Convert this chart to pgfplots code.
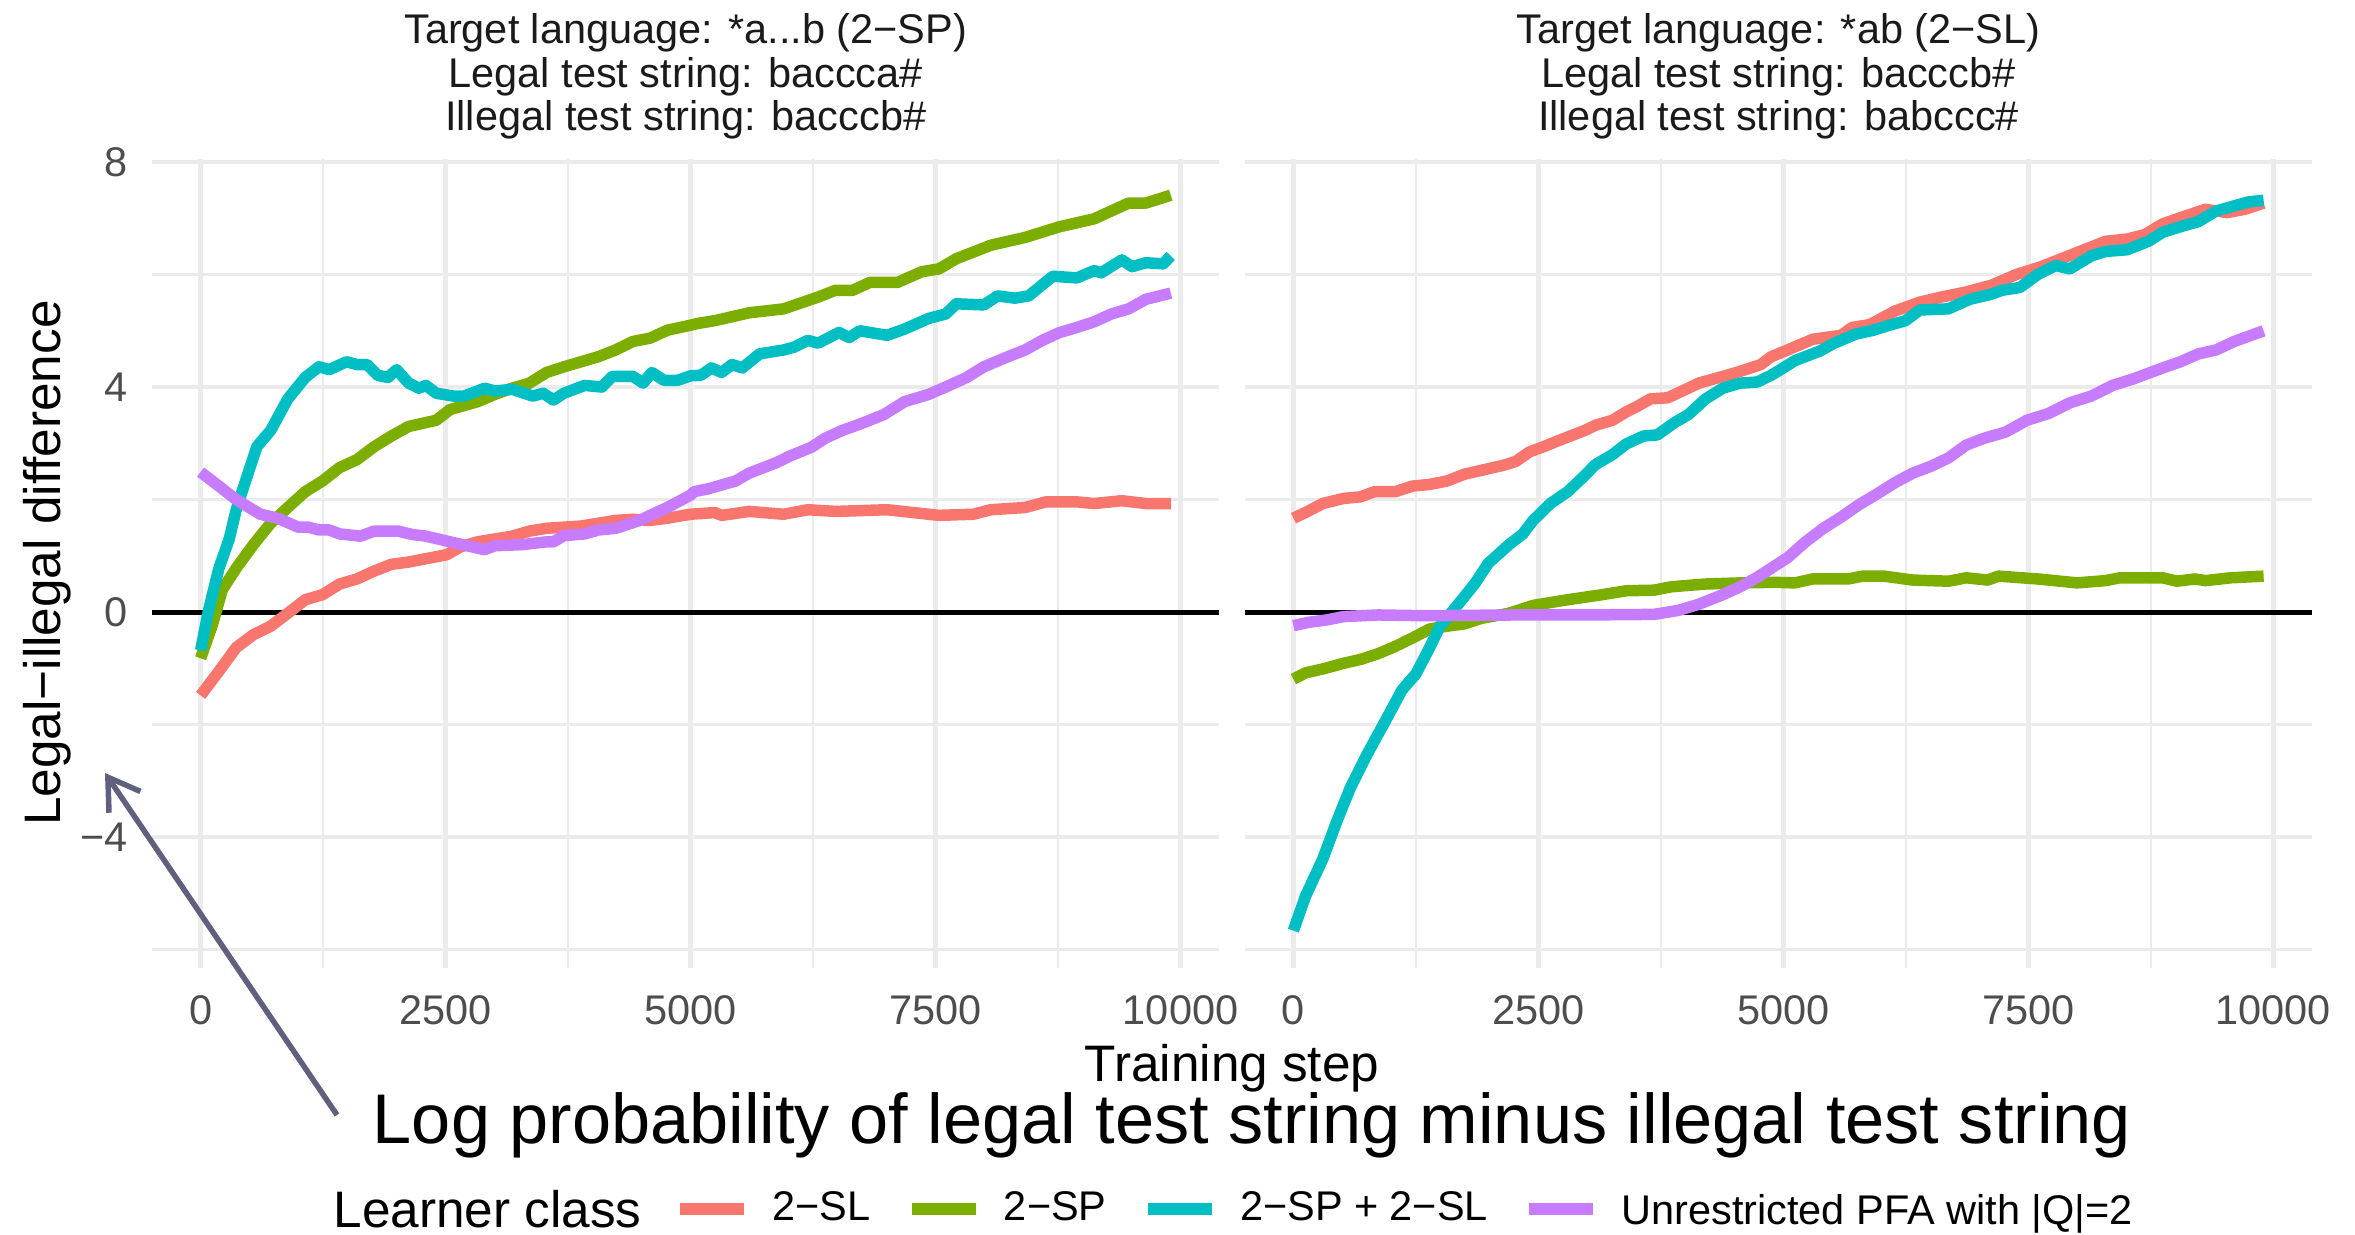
\documentclass[border=0pt]{standalone}
\usepackage{pgfplots}
\pgfplotsset{compat=1.18}
\usepackage{fontspec}
\setmainfont{Liberation Sans}
\usetikzlibrary{arrows.meta}
\definecolor{csl}{HTML}{F8766D}
\definecolor{csp}{HTML}{7CAE00}
\definecolor{cboth}{HTML}{00BFC4}
\definecolor{cpfa}{HTML}{C77CFF}
\definecolor{gridgray}{HTML}{EBEBEB}
\definecolor{tickgray}{HTML}{4D4D4D}
\definecolor{titlegray}{HTML}{1A1A1A}
\definecolor{arrowcol}{HTML}{5E607E}
\tikzset{dl/.style={line width=1.15mm, line join=round, line cap=butt}}
\pgfplotsset{
  panel/.style={
    scale only axis, width=106.72mm, height=80.97mm, anchor=south west,
    xmin=-495, xmax=10395, ymin=-6.33, ymax=8.06,
    axis line style={draw=none},
    major tick length=0pt, minor tick length=0pt,
    xtick={0,2500,5000,7500,10000}, xticklabels={0,2500,5000,7500,10000},
    minor xtick={1250,3750,6250,8750},
    ytick={-4,0,4,8}, minor ytick={-6,-2,2,6},
    grid=both,
    major grid style={draw=gridgray, line width=0.45mm},
    minor grid style={draw=gridgray, line width=0.25mm},
    scaled x ticks=false, scaled y ticks=false,
    tick label style={font=\fontsize{11.8}{14}\selectfont, text=tickgray, inner sep=0pt},
    xticklabel style={anchor=north, yshift=-2.67mm},
    yticklabel style={anchor=east, xshift=-2.41mm},
  },
  zeroline/.style={black, line width=0.5mm, forget plot},
}
\begin{document}
\begin{tikzpicture}
\path[use as bounding box] (0,0) rectangle (235.5mm,123.4mm);

% ---------- Panel 1 ----------
\begin{axis}[panel, at={(15.21mm,26.57mm)}, yticklabels={−4,0,4,8}]
\addplot[zeroline] coordinates {(-495,0) (10395,0)};
\addplot[csl, dl] coordinates {(0,-1.48) (187,-1.05) (363,-0.63) (539,-0.40) (715,-0.25) (890,-0.02) (1067,0.22) (1243,0.31) (1419,0.50) (1595,0.59) (1771,0.73) (1947,0.85) (2123,0.89) (2299,0.95) (2510,1.02) (2651,1.16) (2827,1.25) (3003,1.30) (3179,1.35) (3355,1.44) (3531,1.49) (3707,1.51) (3883,1.53) (4059,1.58) (4235,1.63) (4411,1.65) (4587,1.63) (4763,1.67) (5000,1.74) (5246,1.77) (5317,1.72) (5598,1.79) (5950,1.74) (6197,1.82) (6478,1.79) (7006,1.82) (7534,1.72) (7886,1.74) (8062,1.82) (8414,1.86) (8626,1.96) (8942,1.96) (9118,1.93) (9400,1.98) (9646,1.93) (9900,1.93)};
\addplot[csp, dl] coordinates {(0,-0.82) (116,-0.25) (222,0.40) (363,0.78) (539,1.20) (715,1.58) (890,1.86) (1067,2.14) (1243,2.33) (1419,2.57) (1595,2.71) (1771,2.94) (1947,3.13) (2123,3.30) (2404,3.41) (2545,3.60) (2827,3.74) (3003,3.87) (3179,3.98) (3355,4.07) (3531,4.26) (3707,4.36) (3883,4.45) (4059,4.54) (4235,4.66) (4411,4.81) (4587,4.87) (4763,5.01) (5000,5.10) (5070,5.13) (5246,5.18) (5422,5.25) (5598,5.32) (5950,5.39) (6302,5.60) (6478,5.72) (6654,5.72) (6830,5.86) (7112,5.86) (7358,6.05) (7534,6.10) (7710,6.28) (8062,6.52) (8414,6.66) (8766,6.85) (9118,6.99) (9470,7.27) (9646,7.27) (9900,7.41)};
\addplot[cboth, dl] coordinates {(0,-0.68) (81,0.03) (187,0.78) (292,1.30) (363,1.82) (468,2.38) (574,2.94) (715,3.23) (890,3.79) (1067,4.17) (1207,4.36) (1313,4.31) (1489,4.45) (1595,4.40) (1700,4.40) (1806,4.21) (1911,4.17) (2000,4.31) (2123,4.07) (2228,3.98) (2299,4.03) (2404,3.89) (2580,3.84) (2686,3.84) (2827,3.93) (2897,3.98) (3003,3.93) (3179,3.96) (3390,3.84) (3496,3.89) (3601,3.77) (3707,3.89) (3918,4.03) (4094,4.00) (4200,4.19) (4411,4.19) (4516,4.07) (4604,4.26) (4728,4.12) (4868,4.12) (5000,4.20) (5106,4.21) (5211,4.34) (5317,4.26) (5422,4.40) (5528,4.34) (5704,4.59) (5950,4.66) (6056,4.71) (6197,4.83) (6302,4.78) (6513,4.97) (6619,4.88) (6725,5.00) (7006,4.92) (7182,5.03) (7429,5.22) (7605,5.30) (7710,5.48) (7992,5.46) (8133,5.62) (8309,5.58) (8450,5.62) (8696,5.97) (8942,5.94) (9118,6.07) (9188,6.03) (9400,6.26) (9505,6.14) (9646,6.21) (9822,6.19) (9900,6.33)};
\addplot[cpfa, dl] coordinates {(0,2.49) (187,2.24) (363,2.00) (468,1.89) (609,1.74) (785,1.67) (996,1.51) (1102,1.51) (1207,1.46) (1313,1.46) (1419,1.39) (1630,1.35) (1771,1.44) (2017,1.44) (2158,1.38) (2299,1.35) (2545,1.25) (2721,1.18) (2897,1.11) (3003,1.18) (3284,1.20) (3531,1.25) (3601,1.25) (3707,1.36) (3918,1.39) (4059,1.46) (4235,1.49) (4481,1.63) (4587,1.72) (4763,1.86) (5000,2.08) (5035,2.14) (5176,2.19) (5458,2.33) (5598,2.47) (5880,2.66) (6021,2.78) (6232,2.93) (6373,3.09) (6549,3.23) (6725,3.34) (6971,3.51) (7182,3.74) (7429,3.87) (7640,4.03) (7816,4.17) (7992,4.36) (8238,4.54) (8414,4.66) (8590,4.83) (8766,4.97) (8942,5.06) (9118,5.16) (9294,5.30) (9470,5.39) (9646,5.56) (9900,5.67)};
\end{axis}

% ---------- Panel 2 ----------
\begin{axis}[panel, at={(124.49mm,26.57mm)}, yticklabels={},
  legend columns=-1,
  legend image code/.code={\draw[#1, line width=1.25mm, line cap=butt] (0mm,0mm) -- (6.4mm,0mm);},
  legend style={at={(axis description cs:-0.5350,-0.2973)}, anchor=west, draw=none, fill=none,
    inner sep=0pt, outer sep=0pt, font=\fontsize{11.8}{14}\selectfont, cells={anchor=west},
    nodes={inner sep=0pt},
    /tikz/every odd column/.append style={column sep=2.2mm},
    /tikz/every even column/.append style={column sep=3.5mm}}]
\addplot[zeroline] coordinates {(-495,0) (10395,0)};
\addplot[csl, dl] coordinates {(0,1.67) (123,1.77) (299,1.93) (510,2.02) (686,2.05) (827,2.14) (1038,2.14) (1214,2.24) (1390,2.27) (1566,2.33) (1742,2.45) (1918,2.52) (2165,2.62) (2270,2.68) (2411,2.85) (2552,2.94) (2693,3.04) (2974,3.23) (3080,3.32) (3256,3.41) (3397,3.56) (3502,3.65) (3643,3.79) (3819,3.81) (4030,3.98) (4136,4.07) (4382,4.19) (4523,4.26) (4770,4.40) (4875,4.54) (5044,4.66) (5299,4.85) (5590,4.92) (5700,5.06) (5882,5.11) (6137,5.35) (6392,5.51) (6611,5.60) (6866,5.69) (7122,5.81) (7376,6.00) (7631,6.14) (7777,6.24) (8068,6.44) (8287,6.59) (8506,6.63) (8688,6.71) (8870,6.90) (9052,7.01) (9307,7.16) (9526,7.10) (9708,7.16) (9900,7.27)};
\addlegendentry{2−SL}
\addplot[csp, dl] coordinates {(0,-1.19) (123,-1.08) (299,-1.01) (510,-0.91) (686,-0.84) (862,-0.74) (1038,-0.61) (1214,-0.46) (1390,-0.30) (1566,-0.25) (1742,-0.21) (1918,-0.11) (2200,-0.02) (2446,0.12) (2798,0.22) (3150,0.31) (3397,0.38) (3678,0.39) (3854,0.45) (4206,0.50) (4558,0.52) (4910,0.53) (5117,0.52) (5299,0.59) (5663,0.59) (5809,0.64) (6028,0.64) (6319,0.57) (6684,0.55) (6866,0.61) (7084,0.57) (7194,0.64) (7595,0.59) (7995,0.52) (8287,0.56) (8433,0.61) (8870,0.61) (9016,0.55) (9198,0.59) (9307,0.56) (9562,0.61) (9900,0.64)};
\addlegendentry{2−SP}
\addplot[cboth, dl] coordinates {(0,-5.66) (123,-5.05) (299,-4.39) (440,-3.73) (581,-3.12) (757,-2.51) (933,-1.95) (1109,-1.38) (1250,-1.10) (1390,-0.63) (1496,-0.25) (1672,0.12) (1848,0.50) (1989,0.87) (2200,1.20) (2341,1.39) (2446,1.63) (2622,1.93) (2798,2.14) (2974,2.43) (3080,2.62) (3256,2.80) (3397,2.99) (3573,3.13) (3714,3.15) (3890,3.37) (4030,3.51) (4206,3.79) (4382,3.98) (4558,4.07) (4734,4.09) (4875,4.21) (4971,4.31) (5117,4.47) (5372,4.64) (5518,4.78) (5736,4.94) (5918,5.01) (6064,5.09) (6246,5.18) (6392,5.37) (6683,5.39) (6902,5.56) (7122,5.65) (7231,5.72) (7413,5.77) (7595,6.00) (7777,6.16) (7922,6.10) (8141,6.33) (8287,6.41) (8506,6.44) (8724,6.59) (8870,6.75) (9052,6.85) (9234,6.94) (9416,7.13) (9599,7.22) (9745,7.29) (9900,7.32)};
\addlegendentry{2−SP + 2−SL}
\addplot[cpfa, dl] coordinates {(0,-0.24) (158,-0.18) (334,-0.14) (510,-0.08) (862,-0.05) (1214,-0.06) (1566,-0.06) (2270,-0.05) (2974,-0.05) (3678,-0.04) (3925,0.03) (4136,0.14) (4382,0.31) (4558,0.45) (4734,0.62) (4875,0.78) (5044,0.97) (5226,1.25) (5408,1.49) (5590,1.69) (5772,1.91) (5955,2.10) (6137,2.30) (6319,2.47) (6501,2.59) (6684,2.74) (6866,2.97) (7048,3.09) (7267,3.20) (7485,3.41) (7704,3.53) (7922,3.72) (8141,3.84) (8360,4.03) (8578,4.15) (8870,4.34) (9052,4.45) (9234,4.59) (9416,4.66) (9599,4.81) (9900,5.00)};
\addlegendentry[text depth=0pt]{Unrestricted PFA with |Q|=2}
\end{axis}

% ---------- Facet titles ----------
\begin{scope}[every node/.style={anchor=base, font=\fontsize{11.8}{14}\selectfont, text=titlegray, inner sep=0pt}]
\node at (68.57mm,119.1mm) {Target language: *a...b (2−SP)};
\node at (68.57mm,114.7mm) {Legal test string: baccca\#};
\node at (68.57mm,110.4mm) {Illegal test string: bacccb\#};
\node at (177.85mm,119.1mm) {Target language: *ab (2−SL)};
\node at (177.85mm,114.7mm) {Legal test string: bacccb\#};
\node at (177.85mm,110.4mm) {Illegal test string: babccc\#};
\end{scope}

% ---------- Axis titles ----------
\node[anchor=base, inner sep=0pt, font=\fontsize{14.6}{17}\selectfont] at (123.2mm,15.3mm) {Training step};
\node[anchor=base, inner sep=0pt, rotate=90, font=\fontsize{14.6}{17}\selectfont] at (6.0mm,67.1mm) {Legal−illegal difference};

% ---------- Annotation ----------
\node[anchor=base, inner sep=0pt, font=\fontsize{20}{24}\selectfont] at (125.2mm,9.1mm) {Log probability of legal test string minus illegal test string};
\draw[arrowcol, line width=0.55mm, -{Straight Barb[length=3mm, width=3.8mm, line join=miter]}] (33.7mm,11.9mm) -- (10.5mm,46.1mm);

% ---------- Legend title ----------
\node[anchor=base west, inner sep=0pt, font=\fontsize{14.6}{17}\selectfont] at (33.3mm,0.7mm) {Learner class};
\end{tikzpicture}
\end{document}
